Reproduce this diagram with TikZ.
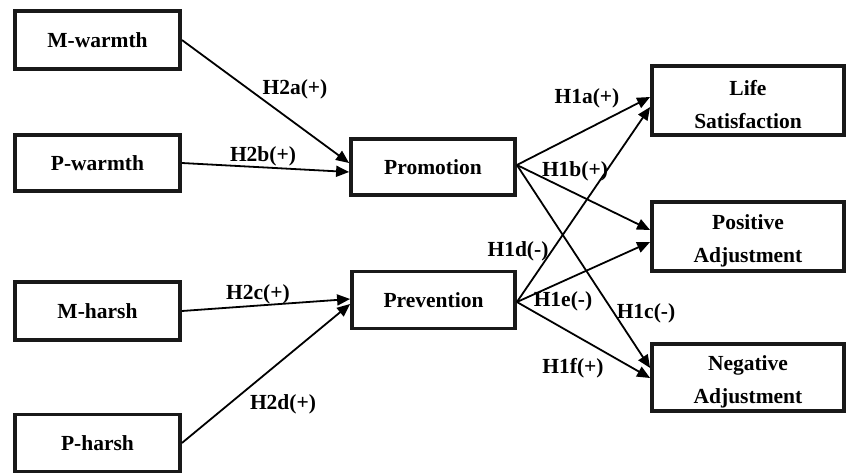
\documentclass[tikz,border=0pt]{standalone}
\usepackage{fontspec}
\setmainfont{Liberation Serif}
\usetikzlibrary{arrows.meta}
\tikzset{
  box/.style={draw=black!90,line width=3.8pt,inner sep=0pt,align=center,
    font=\fontsize{21.5}{33}\selectfont\bfseries},
  lbl/.style={inner sep=0pt,font=\fontsize{21.5}{26}\selectfont\bfseries},
  arr/.style={line width=1.8pt,-{Triangle[length=13pt,width=11pt]}}
}
\newcommand{\topstrut}{\rule{0pt}{23pt}}
\begin{document}
\begin{tikzpicture}[x=1pt,y=-1pt]
\useasboundingbox (0,0) rectangle (847,474);
% left boxes
\node[box,minimum width=165pt,minimum height=58pt] (mw) at (97.5,40) {M-warmth};
\node[box,minimum width=165pt,minimum height=56pt] (pw) at (97.5,163) {P-warmth};
\node[box,minimum width=165pt,minimum height=58pt] (mh) at (97.5,311) {M-harsh};
\node[box,minimum width=165pt,minimum height=57pt] (ph) at (97.5,443) {P-harsh};
% middle boxes
\node[box,minimum width=164pt,minimum height=56pt] (promo) at (433,167) {Promotion};
\node[box,minimum width=163pt,minimum height=57pt] (prev) at (433.5,300) {Prevention};
% right boxes
\node[box,minimum width=192pt,minimum height=69pt] (life) at (748,100.5) {\topstrut Life\\Satisfaction};
\node[box,minimum width=192pt,minimum height=69pt] (pos) at (748,236.5) {\topstrut Positive\\Adjustment};
\node[box,minimum width=192pt,minimum height=67pt] (neg) at (748,377.5) {\topstrut Negative\\Adjustment};
% connectors left
\draw[arr] (mw.east) -- ([yshift=4pt]promo.west);
\draw[arr] (pw.east) -- ([yshift=-5pt]promo.west);
\draw[arr] (mh.east) -- ([yshift=1pt]prev.west);
\draw[arr] (ph.east) -- ([yshift=-4pt]prev.west);
% connectors right
\coordinate (pro) at ([yshift=2pt]promo.east);
\coordinate (pre) at ([yshift=-2pt]prev.east);
\draw[arr] (pro) -- ([yshift=3.5pt]life.west);
\draw[arr] (pro) -- ([yshift=6.5pt]pos.west);
\draw[arr] (pro) -- ([yshift=9.5pt]neg.west);
\draw[arr] (pre) -- ([yshift=-6.5pt]life.west);
\draw[arr] (pre) -- ([yshift=-5.5pt]pos.west);
\draw[arr] (pre) -- ([yshift=-0.5pt]neg.west);
% labels
\node[lbl] (l2a) at (295,89) {H2a(+)};
\node[lbl] (l2b) at (263,156) {H2b(+)};
\node[lbl] (l2c) at (258,294) {H2c(+)};
\node[lbl] (l2d) at (283,404) {H2d(+)};
\node[lbl] (l1a) at (587,98) {H1a(+)};
\node[lbl] (l1b) at (575,171) {H1b(+)};
\node[lbl] (l1d) at (518,251) {H1d(-)};
\node[lbl] (l1e) at (563,301) {H1e(-)};
\node[lbl] (l1c) at (646,313) {H1c(-)};
\node[lbl] (l1f) at (573,368) {H1f(+)};
\end{tikzpicture}
\end{document}
